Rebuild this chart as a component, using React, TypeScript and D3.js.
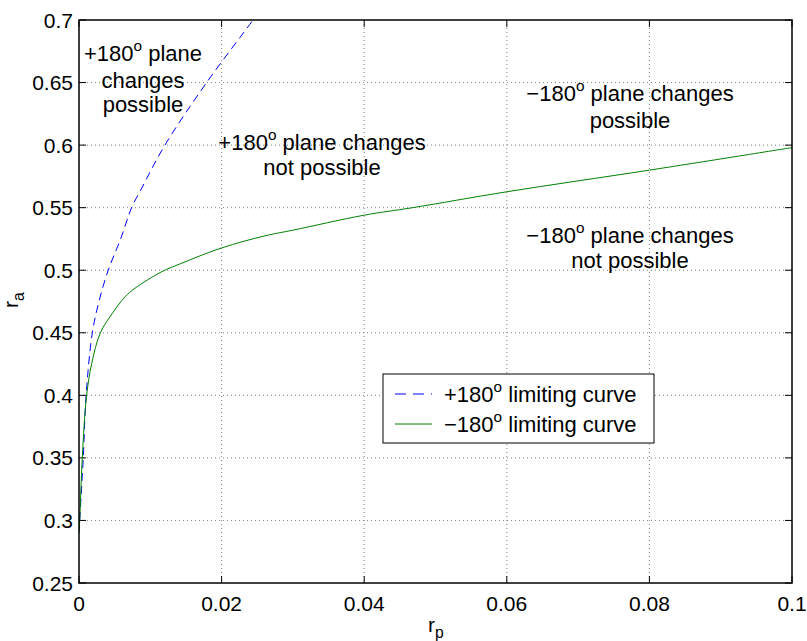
import React from "react";
import * as d3 from "d3";

const xTicks = [0, 0.02, 0.04, 0.06, 0.08, 0.1];
const xTickLabels = ["0", "0.02", "0.04", "0.06", "0.08", "0.1"];
const yTicks = [0.25, 0.3, 0.35, 0.4, 0.45, 0.5, 0.55, 0.6, 0.65, 0.7];
const yTickLabels = ["0.25", "0.3", "0.35", "0.4", "0.45", "0.5", "0.55", "0.6", "0.65", "0.7"];

const plusRp = [0, 0.0003, 0.0006, 0.001, 0.00187, 0.0028, 0.0041, 0.00584, 0.00738, 0.00865, 0.01205, 0.0179, 0.0244, 0.0255];
const plusRa = [0.29, 0.32, 0.35, 0.4, 0.45, 0.475, 0.5, 0.525, 0.55, 0.564, 0.6, 0.65, 0.7, 0.709];

const minusRp = [0, 0.0001, 0.00046, 0.00107, 0.00178, 0.003, 0.0048, 0.00645, 0.00785, 0.0115, 0.0135, 0.02, 0.0261, 0.03, 0.04, 0.0468, 0.06, 0.08, 0.1];
const minusRa = [0.29, 0.3, 0.35, 0.4, 0.4253, 0.45, 0.4665, 0.4787, 0.4856, 0.4985, 0.5035, 0.5178, 0.5275, 0.532, 0.544, 0.55, 0.5627, 0.58, 0.598];

const W = 807, H = 641;
const L = 79, R = 792, T = 20, B = 583;
const FS = 22;
const TFS = 21;

function Deg({ pre, post, fs }: { pre: string; post: string; fs: number }) {
  return (
    <>
      <tspan>{pre}</tspan>
      <tspan dy={-8} fontSize={fs * 0.7}>o</tspan>
      <tspan dy={8}>{post}</tspan>
    </>
  );
}

export default function App() {
  const x = d3.scaleLinear().domain([0, 0.1]).range([L, R]);
  const y = d3.scaleLinear().domain([0.25, 0.7]).range([B, T]);
  const line = d3
    .line<[number, number]>()
    .x((d) => x(d[0]))
    .y((d) => y(d[1]))
    .curve(d3.curveCatmullRom.alpha(0.5));
  const plusPts: [number, number][] = plusRp.map((v, i) => [v, plusRa[i]]);
  const minusPts: [number, number][] = minusRp.map((v, i) => [v, minusRa[i]]);
  const font = "Liberation Sans, Arial, Helvetica, sans-serif";
  const tl = 7;

  return (
    <svg
      width={W}
      height={H}
      style={{ position: "absolute", left: 0, top: 0, display: "block", background: "#fff" }}
      fontFamily={font}
      fontSize={FS}
    >
      <defs>
        <clipPath id="plot">
          <rect x={L} y={T} width={R - L} height={B - T} />
        </clipPath>
      </defs>
      <rect x={0} y={0} width={W} height={H} fill="#fff" />
      {/* grid */}
      <g stroke="#808080" strokeWidth={1} strokeDasharray="1,3">
        {xTicks.slice(1, -1).map((t) => (
          <line key={"gx" + t} x1={x(t)} x2={x(t)} y1={T} y2={B} />
        ))}
        {yTicks.slice(1, -1).map((t) => (
          <line key={"gy" + t} x1={L} x2={R} y1={y(t)} y2={y(t)} />
        ))}
      </g>
      {/* ticks */}
      <g stroke="#000" strokeWidth={1}>
        {xTicks.map((t) => (
          <g key={"tx" + t}>
            <line x1={x(t)} x2={x(t)} y1={B} y2={B - tl} />
            <line x1={x(t)} x2={x(t)} y1={T} y2={T + tl} />
          </g>
        ))}
        {yTicks.map((t) => (
          <g key={"ty" + t}>
            <line x1={L} x2={L + tl} y1={y(t)} y2={y(t)} />
            <line x1={R} x2={R - tl} y1={y(t)} y2={y(t)} />
          </g>
        ))}
      </g>
      {/* curves */}
      <g clipPath="url(#plot)" fill="none" strokeWidth={1}>
        <path d={line(plusPts) || ""} stroke="#0000ff" strokeDasharray="8,5" />
        <path d={line(minusPts) || ""} stroke="#008000" />
      </g>
      {/* box */}
      <rect x={L} y={T} width={R - L} height={B - T} fill="none" stroke="#000" strokeWidth={1.5} />
      {/* tick labels */}
      <g fontSize={TFS}>
        {xTicks.map((t, i) => (
          <text key={"lx" + t} x={x(t)} y={603} textAnchor="middle" dominantBaseline="central">
            {xTickLabels[i]}
          </text>
        ))}
        {yTicks.map((t, i) => (
          <text key={"ly" + t} x={73} y={y(t)} textAnchor="end" dominantBaseline="central">
            {yTickLabels[i]}
          </text>
        ))}
      </g>
      {/* axis labels */}
      <text x={436} y={632} textAnchor="middle" fontSize={TFS}>
        <tspan>r</tspan>
        <tspan dy={6} fontSize={TFS * 0.75}>p</tspan>
      </text>
      <text transform="translate(18,300) rotate(-90)" textAnchor="middle" fontSize={TFS}>
        <tspan>r</tspan>
        <tspan dy={6} fontSize={TFS * 0.75}>a</tspan>
      </text>
      {/* annotations */}
      <g textAnchor="middle" dominantBaseline="central">
        <text x={143} y={53}><Deg pre="+180" post=" plane" fs={FS} /></text>
        <text x={143} y={80}>changes</text>
        <text x={143} y={104}>possible</text>

        <text x={322} y={142}><Deg pre="+180" post=" plane changes" fs={FS} /></text>
        <text x={322} y={167}>not possible</text>

        <text x={630} y={93}><Deg pre="−180" post=" plane changes" fs={FS} /></text>
        <text x={630} y={120}>possible</text>

        <text x={630} y={235}><Deg pre="−180" post=" plane changes" fs={FS} /></text>
        <text x={630} y={260}>not possible</text>
      </g>
      {/* legend */}
      <g>
        <rect x={383} y={374} width={271} height={69} fill="#fff" stroke="#000" strokeWidth={1} />
        <line x1={395} x2={432} y1={394} y2={394} stroke="#0000ff" strokeDasharray="11,7" />
        <line x1={395} x2={432} y1={424} y2={424} stroke="#008000" />
        <text x={444} y={394} dominantBaseline="central"><Deg pre="+180" post=" limiting curve" fs={FS} /></text>
        <text x={444} y={424} dominantBaseline="central"><Deg pre="−180" post=" limiting curve" fs={FS} /></text>
      </g>
    </svg>
  );
}
